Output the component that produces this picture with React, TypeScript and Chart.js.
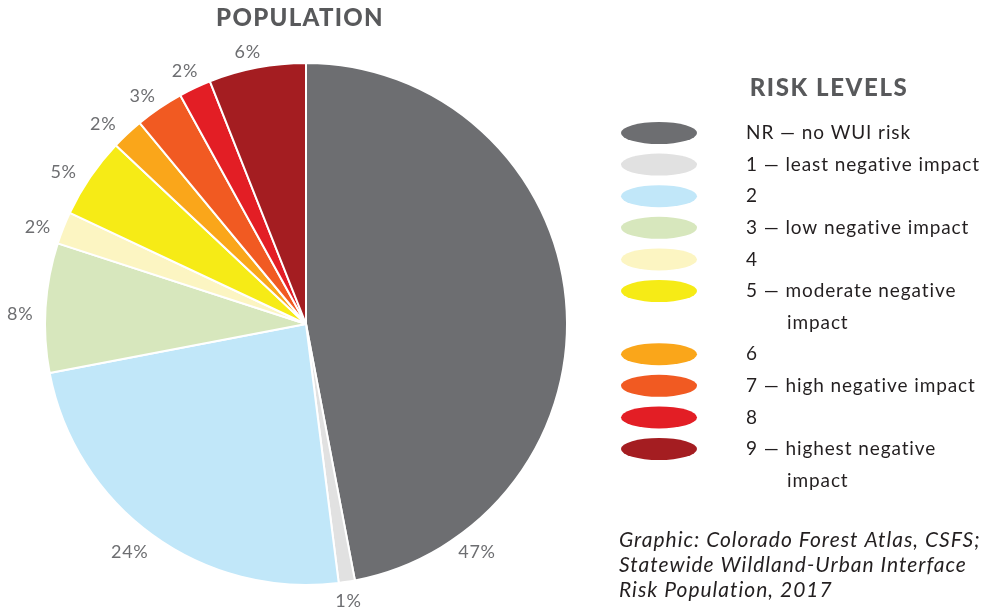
import React, { useEffect, useRef } from "react";
import { Chart, registerables } from "chart.js";

Chart.register(...registerables);

const categories = [
  "NR — no WUI risk",
  "1 — least negative impact",
  "2",
  "3 — low negative impact",
  "4",
  "5 — moderate negative\nimpact",
  "6",
  "7 — high negative impact",
  "8",
  "9 — highest negative\nimpact",
];
const values = [47, 1, 24, 8, 2, 5, 2, 3, 2, 6];
const colors = [
  "#6d6e71",
  "#e1e1e1",
  "#c1e7f9",
  "#d7e7bd",
  "#fcf5c2",
  "#f6eb16",
  "#faa61a",
  "#f15a22",
  "#e31e25",
  "#a41d21",
];
const chartTitle = "POPULATION";
const legendTitle = "RISK LEVELS";
const captionLines = [
  "Graphic: Colorado Forest Atlas, CSFS;",
  "Statewide Wildland-Urban Interface",
  "Risk Population, 2017",
];

const FONT = "Lato, 'Open Sans', sans-serif";
// fraction along each slice where its label sits, and extra radial offset (style only)
const labelFraction = [0.846, 0.58, 0.52, 0.44, 0.25, 0.38, 0.2, 0.36, 0.44, 0.44];
const labelOffset = [24, 19, 27, 25, 24, 25, 24, 19, 19, 17];

const overlayPlugin = {
  id: "overlay",
  afterDraw(chart: any) {
    const ctx = chart.ctx as any;
    const meta = chart.getDatasetMeta(0);
    ctx.save();
    // Title
    ctx.fillStyle = "#58595b";
    ctx.font = `900 24px ${FONT}`;
    ctx.letterSpacing = "1.3px";
    ctx.textAlign = "center";
    ctx.textBaseline = "middle";
    ctx.fillText(chartTitle, 300, 18);

    // percent labels
    ctx.font = `18px ${FONT}`;
    ctx.letterSpacing = "0.7px";
    ctx.fillStyle = "#6d6e71";
    meta.data.forEach((arc: any, i: number) => {
      const p = arc.getProps(["x", "y", "startAngle", "endAngle", "outerRadius"], true);
      const a = p.startAngle + (p.endAngle - p.startAngle) * labelFraction[i];
      const r = p.outerRadius + labelOffset[i];
      ctx.fillText(values[i] + "%", p.x + Math.cos(a) * r, p.y + Math.sin(a) * r);
    });

    // legend
    ctx.fillStyle = "#58595b";
    ctx.font = `900 24px ${FONT}`;
    ctx.letterSpacing = "1.6px";
    ctx.fillText(legendTitle, 829, 88);
    ctx.font = `19px ${FONT}`;
    ctx.letterSpacing = "0.9px";
    ctx.textAlign = "left";
    let line = 0;
    const y0 = 133;
    const lh = 31.6;
    categories.forEach((c, i) => {
      const y = y0 + line * lh;
      ctx.fillStyle = colors[i];
      ctx.beginPath();
      ctx.ellipse(659, y, 38, 11, 0, 0, Math.PI * 2);
      ctx.fill();
      ctx.fillStyle = "#231f20";
      c.split("\n").forEach((t, k) => {
        ctx.fillText(t, k === 0 ? 746 : 787, y0 + (line + k) * lh);
      });
      line += c.split("\n").length;
    });

    // caption
    ctx.font = `italic 21px ${FONT}`;
    ctx.letterSpacing = "1px";
    ctx.fillStyle = "#231f20";
    captionLines.forEach((t, k) => ctx.fillText(t, 619, 540 + k * 25));
    ctx.restore();
  },
};

export default function App() {
  const ref = useRef<HTMLCanvasElement>(null);
  useEffect(() => {
    document.body.style.margin = "0";
    const chart = new Chart(ref.current!, {
      type: "pie",
      data: {
        labels: categories,
        datasets: [
          {
            data: values,
            backgroundColor: colors,
            borderColor: "#ffffff",
            borderWidth: 2,
          },
        ],
      },
      options: {
        responsive: false,
        animation: false,
        layout: { padding: { left: 44, right: 424, top: 62, bottom: 27 } },
        plugins: {
          legend: { display: false },
          title: { display: false },
          tooltip: { enabled: false },
        },
      },
      plugins: [overlayPlugin],
    });
    return () => chart.destroy();
  }, []);
  return (
    <div style={{ width: 992, height: 613, background: "#fff" }}>
      <canvas ref={ref} width={992} height={613} />
    </div>
  );
}
